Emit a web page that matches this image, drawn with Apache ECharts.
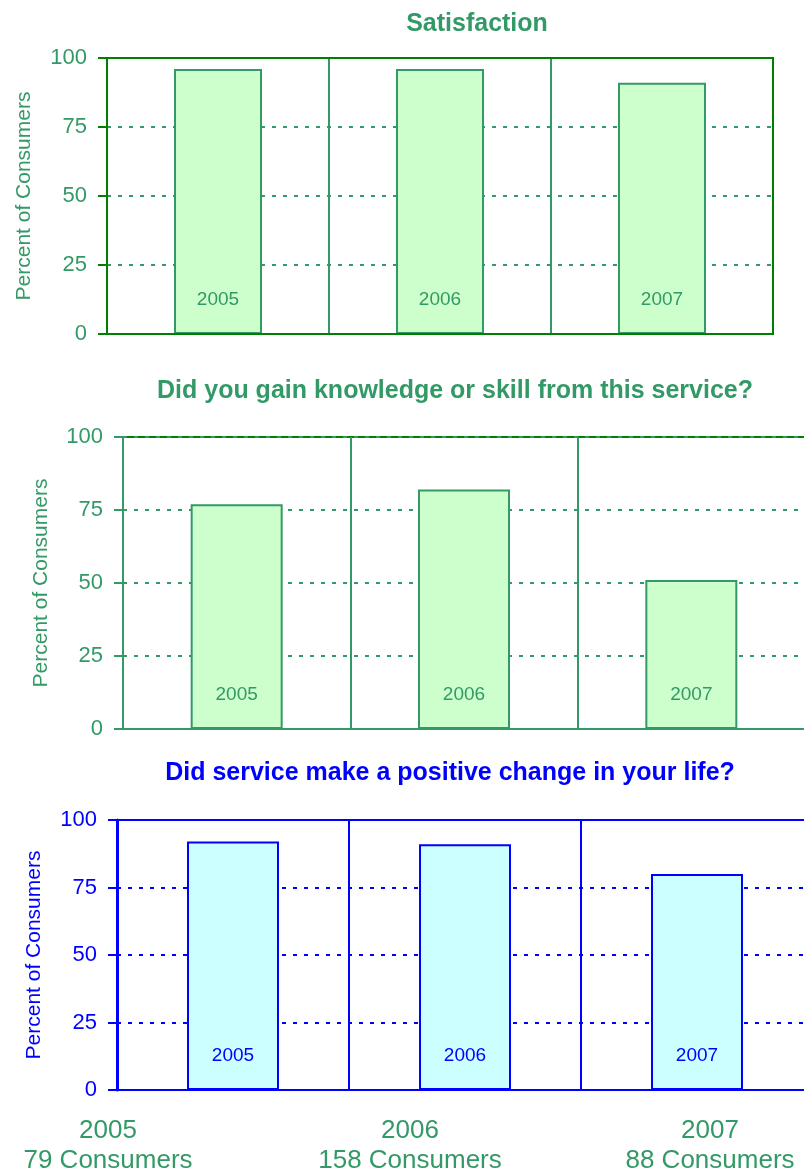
<!DOCTYPE html>
<html>
<head>
<meta charset="utf-8">
<script src="https://cdn.jsdelivr.net/npm/echarts@6/dist/echarts.min.js"></script>
<style>
  html, body { margin: 0; padding: 0; background: #fff; }
  #chart { width: 804px; height: 1172px; }
</style>
</head>
<body>
<div id="chart"></div>
<script>
// data
var years = ['2005', '2006', '2007'];
var satisfaction = [96, 96, 91];
var knowledge = [77, 82, 51];
var positiveChange = [92, 91, 80];
var yTicks = [0, 25, 50, 75, 100];
var bottomYears = ['2005', '2006', '2007'];
var bottomCounts = ['79 Consumers', '158 Consumers', '88 Consumers'];
var titles = [
    'Satisfaction',
    'Did you gain knowledge or skill from this service?',
    'Did service make a positive change in your life?'
];

var GREEN = '#339966';
var DARK = '#008000';
var BLUE = '#0000ff';
var NARROW = '"Liberation Sans Narrow", "Arial Narrow", "Liberation Sans", sans-serif';

var panels = [
    { data: satisfaction, grid: { left: 107, top: 58, width: 666, height: 276 }, gridZ: 5,
      text: GREEN, axis: DARK, frame: DARK, fill: '#ccffcc', edge: GREEN, barWidth: 88,
      title: { x: 472, y: 7 }, nameGap: 72 },
    { data: knowledge, grid: { left: 123, top: 437, width: 682, height: 292 }, gridZ: 0,
      text: GREEN, axis: GREEN, frame: DARK, fill: '#ccffcc', edge: GREEN, barWidth: 92,
      title: { x: 450, y: 374 }, nameGap: 71 },
    { data: positiveChange, grid: { left: 117, top: 820, width: 696, height: 270 }, gridZ: 0,
      text: BLUE, axis: BLUE, frame: BLUE, fill: '#ccffff', edge: BLUE, barWidth: 92,
      title: { x: 445, y: 756 }, nameGap: 72 }
];

var chart = echarts.init(document.getElementById('chart'));

var option = {
    animation: false,
    backgroundColor: '#fff',
    title: [],
    grid: [],
    xAxis: [],
    yAxis: [],
    series: [],
    graphic: []
};

panels.forEach(function (p, i) {
    option.title.push({
        text: titles[i],
        left: p.title.x,
        top: p.title.y,
        textAlign: 'center',
        textStyle: { color: p.text, fontFamily: NARROW, fontWeight: 'bold', fontSize: 25 }
    });
    option.grid.push({
        left: p.grid.left, top: p.grid.top, width: p.grid.width, height: p.grid.height,
        outerBoundsMode: 'none',
        z: p.gridZ,
        show: true, borderColor: p.frame, borderWidth: 2, backgroundColor: 'transparent'
    });
    option.xAxis.push({
        type: 'category',
        gridIndex: i,
        data: years,
        axisLine: { lineStyle: { color: p.axis, width: 2 } },
        axisTick: { show: false },
        axisLabel: { show: false },
        splitLine: { show: true, lineStyle: { color: p.edge, width: 2 } }
    });
    option.yAxis.push({
        type: 'value',
        gridIndex: i,
        min: 0,
        max: 100,
        interval: 25,
        name: 'Percent of Consumers',
        nameLocation: 'middle',
        nameGap: p.nameGap,
        nameTextStyle: { color: p.text, fontFamily: NARROW, fontSize: 21 },
        axisLine: { show: true, lineStyle: { color: p.axis, width: i === 2 ? 3 : 2 } },
        axisTick: { show: true, inside: false, length: 9, lineStyle: { color: p.axis, width: 2 } },
        axisLabel: {
            margin: 20, color: p.text, fontFamily: NARROW, fontSize: 22,
            formatter: function (v) { return yTicks.indexOf(v) >= 0 ? String(v) : ''; }
        },
        splitLine: { show: true, lineStyle: { color: p.text, width: 2, type: [4, 7] } }
    });
    option.series.push({
        type: 'bar',
        xAxisIndex: i,
        yAxisIndex: i,
        data: p.data,
        barWidth: p.barWidth,
        itemStyle: { color: p.fill, borderColor: p.edge, borderWidth: 2 },
        label: {
            show: true,
            position: 'insideBottom',
            distance: 25,
            formatter: function (d) { return d.name; },
            color: p.text,
            fontFamily: NARROW,
            fontSize: 19
        }
    });
});

// consumer counts under the last panel
var bottomX = [108, 410, 710];
bottomYears.forEach(function (y, k) {
    [y, bottomCounts[k]].forEach(function (line, j) {
        option.graphic.push({
            type: 'text',
            x: bottomX[k],
            y: 1131 + j * 30,
            style: {
                text: line,
                fill: GREEN,
                font: '26px "Liberation Sans", Arial, sans-serif',
                align: 'center',
                verticalAlign: 'middle'
            }
        });
    });
});

chart.setOption(option);
</script>
</body>
</html>
